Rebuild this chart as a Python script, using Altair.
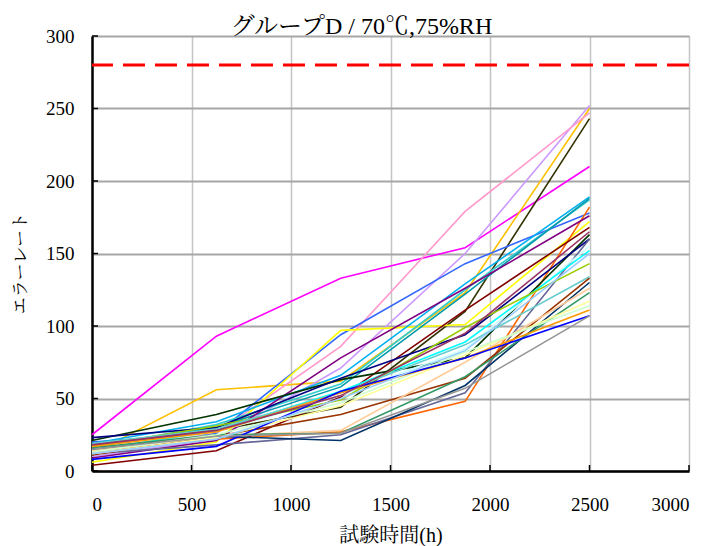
import altair as alt
import pandas as pd

# x positions (test hours)
hours = [0, 625, 1250, 1875, 2500]

# series values at each hour (error rate)
magenta     = [25, 93, 133, 154, 210]
amber       = [12, 56, 62, 123, 250]
lavender    = [10, 22, 71, 150, 252]
pink        = [14, 26, 86, 179, 247]
dark_olive  = [18, 28, 44, 110, 243]
royal_blue  = [20, 26, 94, 143, 178]
yellow      = [6, 20, 97, 101, 172]
sky         = [19, 34, 66, 129, 189]
turquoise   = [16, 32, 60, 125, 187]
dark_teal   = [17, 30, 58, 122, 188]
red_orange  = [13, 22, 27, 48, 182]
purple      = [9, 21, 78, 126, 176]
dark_red    = [4, 14, 51, 111, 168]
dark_green  = [21, 39, 63, 78, 163]
navy        = [23, 30, 64, 94, 160]
slate       = [12, 18, 25, 54, 160]
light_cyan  = [15, 27, 52, 84, 155]
aqua        = [14, 28, 55, 89, 152]
yellowgreen = [17, 31, 49, 99, 143]
light_teal  = [19, 29, 54, 87, 134]
brown       = [11, 24, 39, 64, 133]
dark_slate  = [15, 24, 21, 59, 130]
peach       = [14, 24, 28, 75, 126]
seagreen    = [16, 25, 26, 65, 123]
light_yel   = [12, 23, 45, 80, 117]
light_green = [13, 25, 47, 82, 114]
orange      = [17, 27, 54, 78, 111]
blue        = [8, 17, 55, 78, 107]
gray        = [15, 24, 26, 57, 107]
light_blue  = [12, 22, 50, 83, 150]
plum        = [18, 28, 52, 95, 165]

series_names = ["magenta", "amber", "lavender", "pink", "dark_olive", "royal_blue",
                "yellow", "sky", "turquoise", "dark_teal", "red_orange", "purple",
                "dark_red", "dark_green", "navy", "slate", "light_cyan", "aqua",
                "yellowgreen", "light_teal", "brown", "dark_slate", "peach", "seagreen",
                "light_yel", "light_green", "orange", "blue", "gray", "light_blue", "plum"]
series_lists = [magenta, amber, lavender, pink, dark_olive, royal_blue,
                yellow, sky, turquoise, dark_teal, red_orange, purple,
                dark_red, dark_green, navy, slate, light_cyan, aqua,
                yellowgreen, light_teal, brown, dark_slate, peach, seagreen,
                light_yel, light_green, orange, blue, gray, light_blue, plum]
series_colors = ["#ff00ff", "#ffc000", "#cc99ff", "#ff99cc", "#333300", "#3366ff",
                 "#ffff00", "#00b0f0", "#33cccc", "#0099aa", "#ff6600", "#800080",
                 "#800000", "#003300", "#000080", "#666699", "#ccffff", "#00ffff",
                 "#99cc00", "#66cccc", "#993300", "#003366", "#ffcc99", "#339966",
                 "#ffff99", "#ccffcc", "#ff9900", "#0000ff", "#969696", "#99ccff", "#993366"]

limit_value = [280]
x_ticks = [0, 500, 1000, 1500, 2000, 2500, 3000]
y_ticks = [0, 50, 100, 150, 200, 250, 300]

rows = []
for name, vals in zip(series_names, series_lists):
    for h, v in zip(hours, vals):
        rows.append({"series": name, "hour": h, "rate": v})
df = pd.DataFrame(rows)

FONT = "Liberation Serif, Noto Serif CJK JP, Noto Sans CJK JP"

xscale = alt.Scale(domain=[0, 3000], nice=False)
yscale = alt.Scale(domain=[0, 300], nice=False)

lines = alt.Chart(df).mark_line(strokeWidth=1.6).encode(
    x=alt.X("hour:Q", scale=xscale,
            axis=alt.Axis(values=x_ticks, format="d", title="試験時間(h)", grid=True,
                          gridColor="#c4c4c4", gridWidth=1.5,
                          domainColor="#000000", domainWidth=2.5,
                          ticks=False, labelPadding=24,
                          labelFont=FONT, labelFontSize=19, labelColor="#000000",
                          titleFont=FONT, titleFontSize=20, titleFontWeight="normal",
                          titleColor="#000000", titlePadding=11)),
    y=alt.Y("rate:Q", scale=yscale,
            axis=alt.Axis(values=y_ticks, format="d", title="エラーレート", grid=True,
                          gridColor="#a6a6a6", gridWidth=2,
                          domainColor="#000000", domainWidth=2.5,
                          ticks=False, labelPadding=18,
                          labelFont=FONT, labelFontSize=19, labelColor="#000000",
                          titleFont=FONT, titleFontSize=17, titleFontWeight="normal",
                          titleColor="#000000", titleX=-72, titleY=227,
                          titleAlign="center", titleBaseline="middle")),
    color=alt.Color("series:N", scale=alt.Scale(domain=series_names, range=series_colors), legend=None),
    detail="series:N",
)

limit = alt.Chart(pd.DataFrame({"limit": limit_value})).mark_rule(
    color="#ff0000", strokeWidth=3, strokeDash=[22, 10]
).encode(y=alt.Y("limit:Q", scale=yscale))

xt = alt.Chart(pd.DataFrame({"t": x_ticks})).mark_rule(color="#000000", strokeWidth=1.5).encode(
    x=alt.X("t:Q", scale=xscale), y=alt.value(435), y2=alt.value(429))
yt = alt.Chart(pd.DataFrame({"t": y_ticks})).mark_rule(color="#000000", strokeWidth=1.5).encode(
    y=alt.Y("t:Q", scale=yscale), x=alt.value(0), x2=alt.value(6))

chart = alt.layer(lines, limit, xt, yt).properties(
    width=597, height=435,
    autosize=alt.AutoSizeParams(type="none"),
    padding={"left": 92, "top": 36, "right": 23, "bottom": 75},
    title=alt.Title("グループD / 70℃,75%RH", font=FONT, fontSize=24, fontWeight="normal",
                    color="#000000", anchor="middle", dx=-29, dy=32, baseline="alphabetic", offset=1),
).configure_view(stroke="#000000", strokeWidth=2.5).configure(background="#ffffff")

chart.save("out.html", embed_options={"renderer": "svg", "actions": False})
